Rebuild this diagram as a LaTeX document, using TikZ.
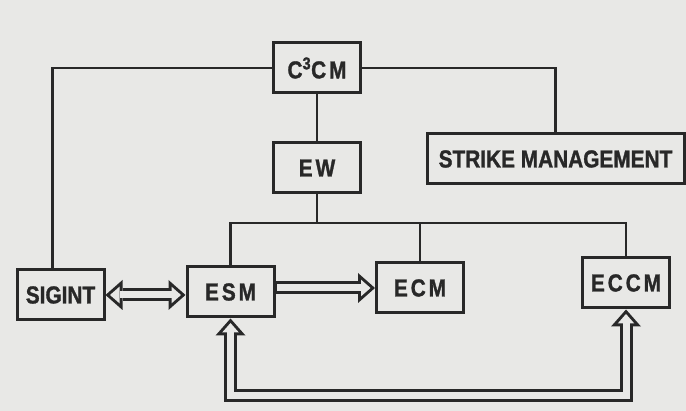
\documentclass[tikz,border=0pt]{standalone}
\usepackage{fontspec}
\setmainfont[FakeStretch=0.85,FakeBold=1.2]{Liberation Sans}
\newfontfamily\spacedfont[FakeStretch=0.85,FakeBold=1.2,LetterSpace=12]{Liberation Sans}
\usepackage{tikz}
\usetikzlibrary{arrows.meta, positioning}
\definecolor{ink}{RGB}{40,40,40}
\definecolor{paper}{RGB}{232,232,230}
\tikzset{
    headout/.tip={Triangle[length=17pt, width=30pt, line width=0pt]},
    headin/.tip={Triangle[length=9.5pt, width=16.7pt, line width=0pt]}
}

\begin{document}
\begin{tikzpicture}[x=1pt, y=-1pt,
    block/.style={draw=ink, line width=3pt, minimum width=87pt, minimum height=50pt,
                  inner sep=0pt, text=ink, font=\fontsize{24.5}{26}\selectfont\bfseries},
    wide/.style={block, font=\fontsize{24.5}{26}\spacedfont\bfseries},
    link/.style={draw=ink, line width=2.8pt},
    hollow/.style={draw=ink, line width=13pt, -{headout},
                   postaction={draw=paper, line width=7pt, shorten <=1.5pt,
                               shorten >=4.5pt, -{headin}}},
    hollowboth/.style={draw=ink, line width=13pt, {headout}-{headout},
                   postaction={draw=paper, line width=7pt, shorten <=4.5pt,
                               shorten >=4.5pt, {headin}-{headin}}}
]
    \fill[paper] (0,0) rectangle (686,411);

    \node[wide] (c3cm) at (317,68) {C\textsuperscript{3}CM};
    \node[wide, below=47pt of c3cm] (ew) {EW};
    \node[block, minimum width=257pt] (strike) at (555.5,159) {STRIKE MANAGEMENT};
    \node[block] (sigint) at (60.5,295) {SIGINT};
    \node[wide] (esm) at (230.5,292) {ESM};
    \node[wide] (ecm) at (420,288) {ECM};
    \node[wide] (eccm) at (626,283) {ECCM};

    \coordinate (bus) at (319,223);
    \coordinate (loop) at (430,396);

    % tree lines
    \draw[link] (c3cm.west) -| ([xshift=-8pt]sigint.north);
    \draw[link] (c3cm.east) -| (strike.north);
    \draw[link] (c3cm) -- (ew);
    \draw[link] (ew.south) -- (ew.south |- bus);
    \draw[link] (esm.north) |- (bus) -| (eccm.north);
    \draw[link] (ecm.north) -- (ecm.north |- bus);

    % hollow arrows
    \draw[hollowboth] (sigint.east) -- (sigint.east -| esm.west);
    \draw[hollow] (esm.east |- ecm.west) -- (ecm.west);
    \draw[hollowboth] (esm.south) |- (loop) -| (eccm.south);
\end{tikzpicture}
\end{document}
